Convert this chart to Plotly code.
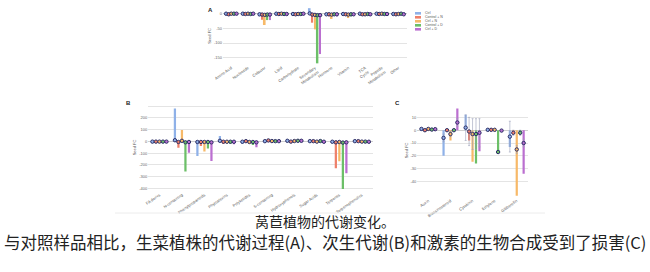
import plotly.graph_objects as go

# ---------------- data ----------------
series = ["Ctrl", "Control + N", "Ctrl + N", "Control + D", "Ctrl + D"]
colors = ["#8fb1e8", "#ee806a", "#f7b968", "#6cbf68", "#bb6fd0"]
dot_line = "#2b2d66"

cats_A = ["Amino Acid", "Nucleotide", "Cofactor", "Lipid", "Carbohydrate",
          "Secondary<br>Metabolism", "Hormone", "Vitamin", "TCA<br>Cycle",
          "Peptide<br>Metabolism", "Other"]
A_blue = [4, 3, -8, 2, 1, 20, -3, -2, 3, 2, 2]
A_red = [-5, -3, -20, -2, -3, -30, -8, -6, -4, -3, -3]
A_orange = [5, 2, -38, 3, 2, -53, -17, -14, -6, 3, 2]
A_green = [3, 2, -21, 2, 1, -170, -6, -8, -3, -2, 2]
A_purple = [4, 3, -21, 2, 2, -138, -8, -5, -6, -2, -3]
A_dot_blue = [1, 1, -1, 1, 0, 2, -1, 0, 1, 1, 0]
A_dot_red = [-1, 0, -2, 0, -1, -2, -1, -1, -1, 0, -1]
A_dot_orange = [1, 1, -3, 1, 0, -3, -2, -2, -1, 1, 0]
A_dot_green = [1, 0, -2, 0, 0, -4, -1, -1, 0, 0, 1]
A_dot_purple = [1, 1, -2, 0, 1, -4, -1, -1, -1, 0, -1]

cats_B = ["FA derivs", "N-containing", "Phenylpropanoids", "Phytoalexins",
          "Polyketides", "S-containing", "Hydroxyphenols", "Sugar Acids",
          "Terpenes", "Terpenophenolics"]
B_blue = [-8, 280, -124, 47, -20, 5, 15, 5, -10, 5]
B_red = [-8, -55, -40, -20, 10, 20, -5, 5, -230, 5]
B_orange = [-6, 98, -87, -15, -20, 10, 10, -5, -170, -5]
B_green = [-8, -258, -60, -20, -30, 5, 15, 10, -406, -5]
B_purple = [-8, -98, -167, -25, -50, 5, 15, -10, -272, -10]
B_dot_blue = [-2, 10, -5, 5, -3, 2, 5, 2, -3, 2]
B_dot_red = [-2, -5, -5, -3, 2, 8, -2, 2, -8, 2]
B_dot_orange = [-2, 5, -5, -3, -5, 3, 3, -2, -5, -2]
B_dot_green = [-2, -8, -5, -3, -5, 2, 5, 3, -10, -2]
B_dot_purple = [-2, -5, -8, -3, -8, 2, 5, -3, -8, -3]

cats_C = ["Auxin", "Brassinosteroid", "Cytokinin", "Ethylene", "Gibberellin"]
C_blue = [1.5, -20, 12, 0.5, -13]
C_red = [1, -0.5, -8, 0.5, -3]
C_orange = [1.5, -8, -24.5, 0.5, -51]
C_green = [1, -0.5, -26, -17.5, -3]
C_purple = [1, 17, -16.5, -0.5, -34]
C_dot_blue = [1, -6, 2, 0.3, -5]
C_dot_red = [0, 0, -1, 0.3, -2]
C_dot_orange = [1, -3, -3, 0.3, -15]
C_dot_green = [0.5, 0, -3, -17, -2]
C_dot_purple = [0.8, 6, -2, -0.3, -10]
C_err_blue = [0.5, 3, 10, 0.3, 12]
C_err_red = [0.5, 0.5, 11, 0.3, 2]
C_err_orange = [0.5, 2, 12, 0.3, 3]
C_err_green = [0.5, 0.5, 12, 1, 2]
C_err_purple = [0.5, 3, 11, 0.3, 3]

A_tickvals = [0, -50, -100, -150]
A_ticktext = ["0", "-50", "-100", "-150"]
B_tickvals = [300, 200, 100, 0, -100, -200, -300, -400]
B_ticktext = ["", "200", "100", "0", "-100", "-200", "-300", "-400"]
C_tickvals = [20, 10, 0, -10, -20, -30, -40]
C_ticktext = ["", "10", "0", "-10", "-20", "-30", "-40"]

caption1 = "莴苣植物的代谢变化。"
caption2 = "与对照样品相比，生菜植株的代谢过程(A)、次生代谢(B)和激素的生物合成受到了损害(C)"

A_bars = [A_blue, A_red, A_orange, A_green, A_purple]
A_dots = [A_dot_blue, A_dot_red, A_dot_orange, A_dot_green, A_dot_purple]
B_bars = [B_blue, B_red, B_orange, B_green, B_purple]
B_dots = [B_dot_blue, B_dot_red, B_dot_orange, B_dot_green, B_dot_purple]
C_bars = [C_blue, C_red, C_orange, C_green, C_purple]
C_dots = [C_dot_blue, C_dot_red, C_dot_orange, C_dot_green, C_dot_purple]
C_errs = [C_err_blue, C_err_red, C_err_orange, C_err_green, C_err_purple]

# ---------------- figure ----------------
fig = go.Figure()
panels = [("x", "y", cats_A, A_bars, A_dots, None),
          ("x2", "y2", cats_B, B_bars, B_dots, None),
          ("x3", "y3", cats_C, C_bars, C_dots, C_errs)]
for p, (xa, ya, cats, bars, dots, errs) in enumerate(panels):
    for i, s in enumerate(series):
        fig.add_trace(go.Bar(x=cats, y=bars[i], name=s, marker_color=colors[i],
                             marker_line_width=0, xaxis=xa, yaxis=ya,
                             offsetgroup=str(i), width=0.1, showlegend=False))
    for i, s in enumerate(series):
        sc = dict(x=cats, y=dots[i], mode="markers", xaxis=xa, yaxis=ya,
                  offsetgroup=str(i), showlegend=False, name=s,
                  marker=dict(color=colors[i], size=3.4,
                              line=dict(color=dot_line, width=1)))
        if errs is not None:
            sc["error_y"] = dict(type="data", array=errs[i], color="#9aa0b8",
                                 thickness=0.6, width=1)
        fig.add_trace(go.Scatter(**sc))

ax_common = dict(showgrid=False, showline=False, zeroline=False, ticks="",
                 tickangle=-35, tickfont=dict(size=4, color="#555"),
                 automargin=False)
ay_common = dict(showgrid=True, gridcolor="#e4e4e4", gridwidth=1,
                 zeroline=True, zerolinecolor="#cfcfcf", zerolinewidth=1,
                 showline=False, ticks="", tickfont=dict(size=4, color="#666"),
                 automargin=False, title_font=dict(size=4, color="#555"),
                 title_standoff=2)

fig.update_layout(
    width=650, height=272,
    margin=dict(l=0, r=0, t=0, b=0),
    paper_bgcolor="white", plot_bgcolor="white",
    font=dict(family="Liberation Sans", color="#444"),
    barmode="group", bargap=0.22, bargroupgap=0,
    scattermode="group", scattergap=0.22,
    xaxis=dict(domain=[0.343, 0.626], anchor="y", **ax_common),
    yaxis=dict(domain=[0.765, 0.971], anchor="x", range=[-172, 21],
               tickvals=A_tickvals, ticktext=A_ticktext,
               title_text="Seed FC", **ay_common),
    xaxis2=dict(domain=[0.228, 0.574], anchor="y2", **ax_common),
    yaxis2=dict(domain=[0.298, 0.618], anchor="x2", range=[-423, 320],
                tickvals=B_tickvals, ticktext=B_ticktext,
                title_text="Seed FC", **ay_common),
    xaxis3=dict(domain=[0.642, 0.812], anchor="y3", **ax_common),
    yaxis3=dict(domain=[0.276, 0.618], anchor="x3", range=[-52, 20.5],
                tickvals=C_tickvals, ticktext=C_ticktext,
                title_text="Seed FC", **ay_common),
    showlegend=False,
)

# compact legend (swatch + label per series)
for i, s in enumerate(series):
    yc = 1 - (13.3 + 4 * i) / 272
    fig.add_shape(type="rect", xref="paper", yref="paper",
                  x0=415 / 650, x1=421 / 650, y0=yc - 1.3 / 272, y1=yc + 1.3 / 272,
                  fillcolor=colors[i], line_width=0)
    fig.add_annotation(text=s, x=423 / 650, y=yc, xref="paper", yref="paper",
                       xanchor="left", yanchor="middle", showarrow=False,
                       font=dict(size=3.5, color="#555"))

fig.add_annotation(text="<b>A</b>", x=206 / 650, y=1 - 5 / 272, xref="paper",
                   yref="paper", showarrow=False, font=dict(size=6, color="#222"))
fig.add_annotation(text="<b>B</b>", x=124 / 650, y=1 - 103 / 272, xref="paper",
                   yref="paper", showarrow=False, font=dict(size=6, color="#222"))
fig.add_annotation(text="<b>C</b>", x=397 / 650, y=1 - 103 / 272, xref="paper",
                   yref="paper", showarrow=False, font=dict(size=6, color="#222"))

fig.add_shape(type="line", xref="paper", yref="paper", x0=115 / 650, x1=545 / 650,
              y0=1 - 213 / 272, y1=1 - 213 / 272, line=dict(color="#ececec", width=1))

fig.add_annotation(text=caption1, x=0.5, y=1 - 233 / 272, xref="paper", yref="paper",
                   showarrow=False, font=dict(size=14, color="#222",
                                              family="Noto Sans CJK SC"))
fig.add_annotation(text=caption2, x=0.5, y=1 - 256 / 272, xref="paper", yref="paper",
                   showarrow=False, font=dict(size=16.5, color="#222",
                                              family="Noto Sans CJK SC"))

fig.write_html("out.html")
